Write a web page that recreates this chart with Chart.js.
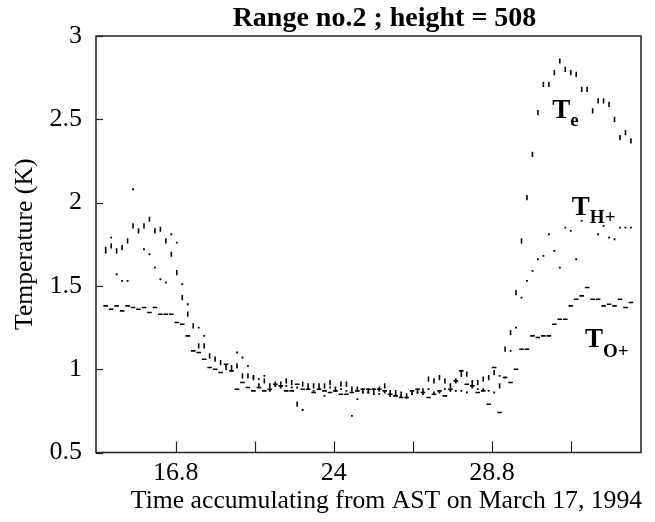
<!DOCTYPE html>
<html><head><meta charset="utf-8">
<script src="https://cdn.jsdelivr.net/npm/chart.js@4.4.0/dist/chart.umd.min.js"></script>
<style>html,body{margin:0;padding:0;background:#fff}canvas{display:block}</style>
</head><body>
<canvas id="c" width="655" height="522"></canvas>
<script>
// Sample number along the time axis is the array index.
const teValues = [1.72,1.74,1.71,1.73,1.77,1.86,1.83,1.86,1.90,1.83,1.84,1.77,1.69,1.58,1.43,1.33,1.26,1.14,1.14,1.08,1.06,1.04,1.01,1.01,1.02,
  0.96,0.96,0.95,0.90,0.93,0.90,0.91,0.91,0.93,0.92,
  0.79,0.91,0.90,0.90,0.90,0.90,0.92,0.88,0.91,0.91,
  0.88,0.88,0.87,0.87,0.87,0.88,0.90,0.86,0.86,0.85,
  0.84,0.86,0.87,0.87,0.94,0.93,0.95,0.93,0.90,0.93,
  0.97,0.97,0.92,0.92,0.94,0.95,0.98,0.90,1.12,1.22,
  1.46,1.77,2.03,2.29,2.54,2.71,2.71,2.78,2.85,2.80,
  2.78,2.77,2.68,2.68,2.55,2.61,2.61,2.59,2.50,2.39,2.42,2.37];
const thValues = [1.70,1.79,1.57,1.53,1.53,2.08,null,1.72,1.69,1.61,1.54,1.52,1.81,1.76,1.51,1.39,null,1.25,1.20,null,null,null,null,0.99,1.10,
  1.07,1.02,0.95,0.94,0.96,0.87,0.90,0.89,0.90,0.89,
  0.89,0.755,0.88,0.87,0.88,0.84,0.89,0.87,0.88,0.87,
  0.72,0.82,0.86,0.86,0.85,0.85,0.86,0.84,0.84,0.84,
  0.83,0.85,0.86,0.85,0.88,0.86,0.86,0.88,0.87,0.87,
  0.87,0.86,0.89,0.88,0.88,0.87,0.86,0.96,0.95,1.11,
  1.25,1.43,1.53,1.59,1.66,1.68,1.81,1.71,1.61,1.85,
  1.83,1.66,1.89,null,null,1.81,1.86,1.79,1.78,1.85,1.85,1.85];
const toValues = [1.38,1.36,1.38,1.35,1.38,1.37,1.36,1.37,1.34,1.37,1.33,1.33,1.33,1.28,1.27,1.20,1.11,1.10,1.06,1.01,1.00,0.98,1.03,0.99,0.88,
  0.92,0.89,0.87,0.89,0.87,0.88,0.91,0.90,0.87,0.87,
  0.91,0.88,0.88,0.86,0.88,0.87,0.86,0.87,0.85,0.85,
  0.86,0.87,0.88,0.88,0.88,0.88,0.87,0.85,0.84,0.83,
  0.83,0.87,0.88,0.86,0.83,0.85,0.87,0.84,0.88,0.93,
  0.99,0.91,0.90,0.86,0.87,0.79,1.01,0.74,0.95,0.92,
  1.00,1.12,1.12,1.20,1.19,1.20,1.20,1.27,1.30,1.30,
  1.38,1.42,1.44,1.49,1.42,1.42,1.38,1.39,1.38,1.42,1.37,1.40];
const xTickValues = [12.8, 27.2, 41.7, 56.2, 70.6, 85.0];
const xTickLabels = ['16.8', '', '24', '', '28.8', ''];
const chartTitle = 'Range no.2 ; height = 508';
const xTitle = 'Time accumulating from AST on March 17, 1994';
const yTitle = 'Temperature (K)';
const seriesNames = ['e', 'H+', 'O+'];

const toPoints = arr => arr.map((v, i) => ({x: i, y: v})).filter(p => p.y !== null);
const SERIF = '"Liberation Serif", "Times New Roman", serif';

const decor = {
  id: 'decor',
  afterDraw(chart, args, opts) {
    const {ctx, chartArea: a, scales: {x, y}} = chart;
    ctx.save();
    ctx.strokeStyle = '#222';
    ctx.lineWidth = 1.5;
    ctx.strokeRect(a.left, a.top, a.right - a.left, a.bottom - a.top);
    ctx.lineWidth = 1.2;
    y.ticks.forEach(t => {
      const py = Math.round(y.getPixelForValue(t.value)) + 0.5;
      ctx.beginPath(); ctx.moveTo(a.left, py); ctx.lineTo(a.left + 7, py); ctx.stroke();
    });
    x.ticks.forEach(t => {
      const px = Math.round(x.getPixelForValue(t.value)) + 0.5;
      ctx.beginPath(); ctx.moveTo(px, a.bottom); ctx.lineTo(px, a.bottom - 11); ctx.stroke();
    });
    ctx.fillStyle = '#000';
    ctx.textAlign = 'center';
    ctx.textBaseline = 'alphabetic';
    ctx.font = 'bold 28px ' + SERIF;
    ctx.fillText(chartTitle, (a.left + a.right) / 2 + 16, 26);
    ctx.font = '25.7px ' + SERIF;
    ctx.fillText(xTitle, (a.left + a.right) / 2 + 18, 508);
    ctx.save();
    ctx.translate(25, (a.top + a.bottom) / 2);
    ctx.rotate(-Math.PI / 2);
    ctx.textBaseline = 'middle';
    ctx.fillText(yTitle, 0, 0);
    ctx.restore();
    ctx.textAlign = 'left';
    opts.labels.forEach((l, k) => {
      const px = x.getPixelForValue(l.at[0]);
      const py = y.getPixelForValue(l.at[1]);
      ctx.font = 'bold 27px ' + SERIF;
      ctx.fillText('T', px, py);
      const w = ctx.measureText('T').width;
      ctx.font = 'bold 19px ' + SERIF;
      ctx.fillText(seriesNames[k], px + w, py + l.drop);
    });
    ctx.restore();
  }
};

new Chart(document.getElementById('c'), {
  type: 'scatter',
  data: {
    datasets: [
      {label: 'Te', data: toPoints(teValues), pointStyle: 'line', rotation: 90, pointRadius: 2.6, borderWidth: 1.6, borderColor: '#000', backgroundColor: '#000', showLine: false},
      {label: 'TH+', data: toPoints(thValues), pointStyle: 'rect', pointRadius: 1.3, borderWidth: 0, borderColor: '#000', backgroundColor: '#000', showLine: false},
      {label: 'TO+', data: toPoints(toValues), pointStyle: 'line', pointRadius: 2.3, borderWidth: 1.6, borderColor: '#000', backgroundColor: '#000', showLine: false}
    ]
  },
  options: {
    responsive: false,
    animation: false,
    events: [],
    layout: {padding: {top: 36, right: 14, left: 0, bottom: 0}},
    plugins: {
      legend: {display: false},
      tooltip: {enabled: false},
      decor: {labels: [
        {at: [81.6, 2.51], drop: 8},
        {at: [85.2, 1.924], drop: 8},
        {at: [87.6, 1.134], drop: 10}
      ]}
    },
    scales: {
      x: {
        type: 'linear', min: -1.77, max: 97.84,
        afterBuildTicks: s => { s.ticks = xTickValues.map(v => ({value: v})); },
        afterFit: s => { s.height = 69.5; },
        grid: {display: false},
        border: {display: false},
        ticks: {
          autoSkip: false, maxRotation: 0, padding: -3, color: '#000',
          font: {family: SERIF, size: 26},
          callback: v => xTickLabels[xTickValues.indexOf(v)]
        }
      },
      y: {
        type: 'linear', min: 0.5, max: 3,
        afterFit: s => { s.width = 96; },
        grid: {display: false},
        border: {display: false},
        ticks: {stepSize: 0.5, padding: 6, color: '#000', font: {family: SERIF, size: 26},
          callback: v => String(Math.round(v * 10) / 10)}
      }
    }
  },
  plugins: [decor]
});
</script>
</body></html>
